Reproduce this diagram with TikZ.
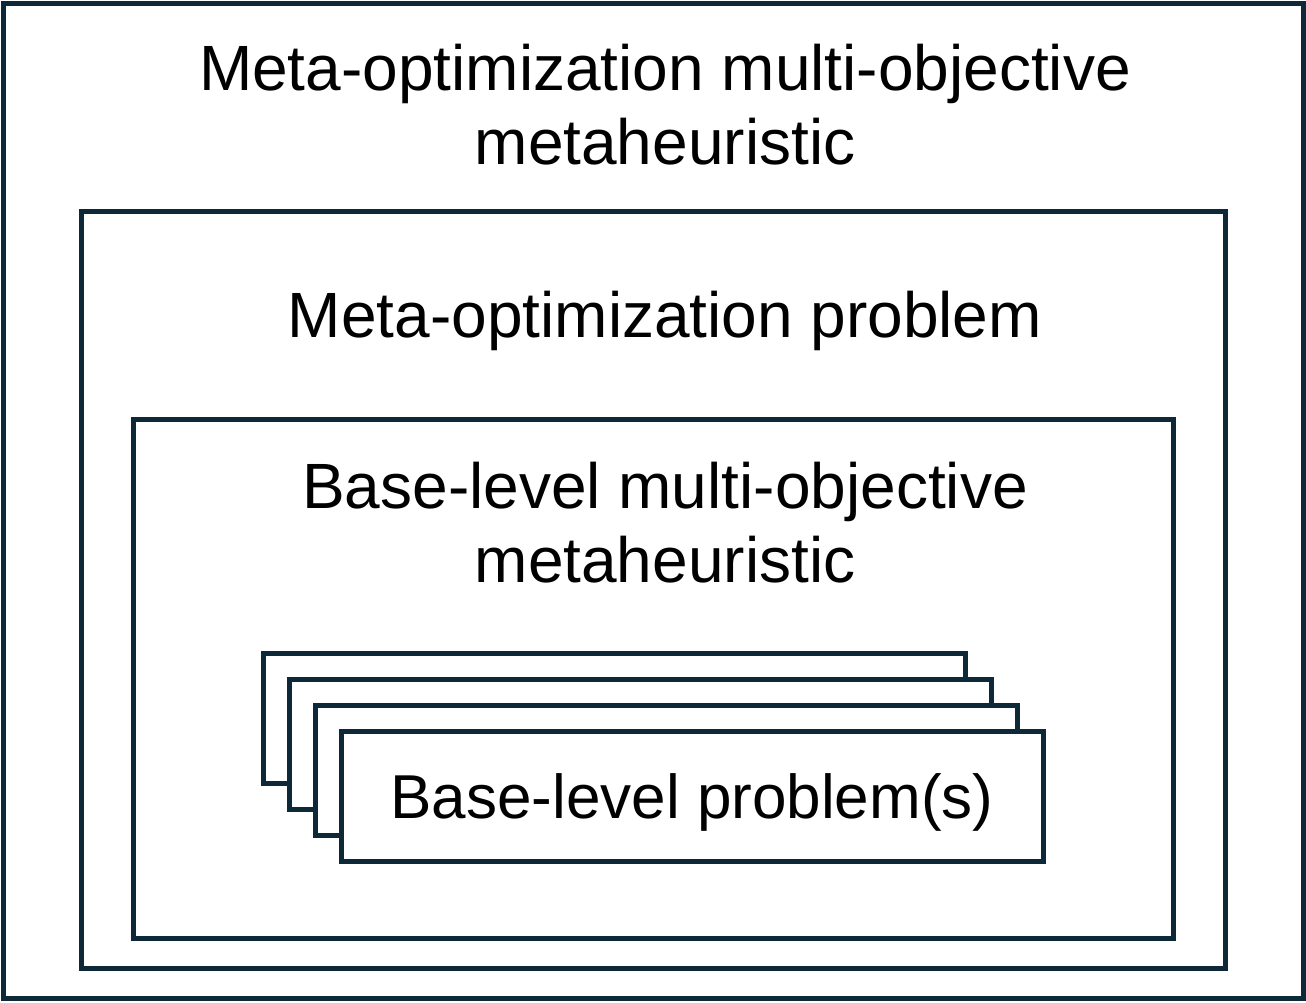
\documentclass[tikz,border=0pt]{standalone}
\usepackage{fontspec}
\setmainfont{Liberation Sans}
\begin{document}
\begin{tikzpicture}[x=1pt,y=-1pt]
%
\definecolor{col_line}{rgb}{0.05,0.16,0.22}
\definecolor{col_fill}{rgb}{1.0,1.0,1.0}
%
\tikzset{
  box/.style={draw=col_line,fill=col_fill,line width=5pt,inner sep=0pt,outer sep=0pt,anchor=north west},
  lab/.style={font=\fontsize{64}{74}\selectfont,align=center,inner sep=0pt,anchor=base}
}
%
\useasboundingbox (0,0) rectangle (1306,1003);
%
% nested boxes
\node[box,minimum width=1300pt,minimum height=994pt] (outer) at (3,4) {};
\node[box,minimum width=1144pt,minimum height=756pt] (problem) at (81,212) {};
\node[box,minimum width=1040pt,minimum height=519pt] (base) at (133,419) {};
%
% stack of base-level problems
\node[box,minimum width=702pt,minimum height=130pt] (p0) at (263,653) {};
\node[box,minimum width=702pt,minimum height=130pt] (p1) at (289,679) {};
\node[box,minimum width=702pt,minimum height=130pt] (p2) at (315,705) {};
\node[box,minimum width=702pt,minimum height=130pt] (p3) at (341,731) {};
%
% labels (base anchor sits on the last line)
\node[lab] (lab_outer) at (665,165) {Meta-optimization multi-objective\\metaheuristic};
\node[lab] (lab_problem) at (665,337) {Meta-optimization problem};
\node[lab] (lab_base) at (665,582) {Base-level multi-objective\\metaheuristic};
\node[lab,font=\fontsize{62}{72}\selectfont] (lab_p3) at (692,818) {Base-level problem(s)};
%
\end{tikzpicture}
\end{document}
